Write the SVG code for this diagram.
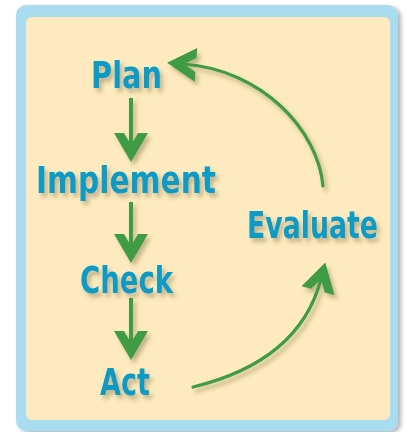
<svg xmlns="http://www.w3.org/2000/svg" width="409" height="432" viewBox="0 0 409 432">
  <style>
    .lbl { font-family: "DejaVu Sans Condensed", "DejaVu Sans", sans-serif; font-weight: bold; font-size: 38px; fill: #0d9bc6; text-anchor: start; }
    .conn { fill: none; stroke: #419b45; }
    .straight { stroke-width: 4; }
    .curve { stroke-width: 3.2; stroke-linecap: round; }
  </style>
  <defs>
    <filter id="sh" x="-20%" y="-20%" width="150%" height="150%">
      <feDropShadow dx="3" dy="4" stdDeviation="2" flood-color="#5a4a20" flood-opacity="0.35"/>
    </filter>
    <filter id="fsh" x="-5%" y="-5%" width="115%" height="115%">
      <feDropShadow dx="3" dy="2" stdDeviation="2" flood-color="#000" flood-opacity="0.3"/>
    </filter>
    <marker id="head" markerUnits="userSpaceOnUse" viewBox="-31 -19 33 38" refX="-17" refY="0" markerWidth="33" markerHeight="38" orient="auto" overflow="visible">
      <path d="M0,0 L-29,-17 L-29,-7 L-17,0 L-29,7 L-29,17 Z" fill="#419b45"/>
    </marker>
  </defs>

  <g id="frame">
    <rect x="16" y="5" width="382" height="426" rx="10" fill="#a9dcee" filter="url(#fsh)"/>
    <rect x="26" y="17" width="364" height="403" rx="6" fill="#fdebbf"/>
  </g>

  <g id="connectors" filter="url(#sh)">
    <path class="conn straight" d="M131,98 L131,145" marker-end="url(#head)"/>
    <path class="conn straight" d="M131,202 L131,246" marker-end="url(#head)"/>
    <path class="conn straight" d="M131,298 L131,343" marker-end="url(#head)"/>
    <path class="conn curve" d="M193,387 C255,372 305,340 321,279" marker-end="url(#head)"/>
    <path class="conn curve" d="M323,186 C318,130 262,70 184,64" marker-end="url(#head)"/>
  </g>

  <g id="plan" filter="url(#sh)">
    <g transform="translate(91,88) scale(0.8,1)">
      <text class="lbl" x="0" y="0" textLength="88.75" lengthAdjust="spacingAndGlyphs">Plan</text>
    </g>
  </g>
  <g id="implement" filter="url(#sh)">
    <g transform="translate(36,193) scale(0.8,1)">
      <text class="lbl" x="0" y="0" textLength="225" lengthAdjust="spacingAndGlyphs">Implement</text>
    </g>
  </g>
  <g id="check" filter="url(#sh)">
    <g transform="translate(80,293) scale(0.8,1)">
      <text class="lbl" x="0" y="0" textLength="116.25" lengthAdjust="spacingAndGlyphs">Check</text>
    </g>
  </g>
  <g id="act" filter="url(#sh)">
    <g transform="translate(100,395) scale(0.8,1)">
      <text class="lbl" x="0" y="0" textLength="62.5" lengthAdjust="spacingAndGlyphs">Act</text>
    </g>
  </g>
  <g id="evaluate" filter="url(#sh)">
    <g transform="translate(247,238) scale(0.8,1)">
      <text class="lbl" x="0" y="0" textLength="163.75" lengthAdjust="spacingAndGlyphs">Evaluate</text>
    </g>
  </g>
</svg>
